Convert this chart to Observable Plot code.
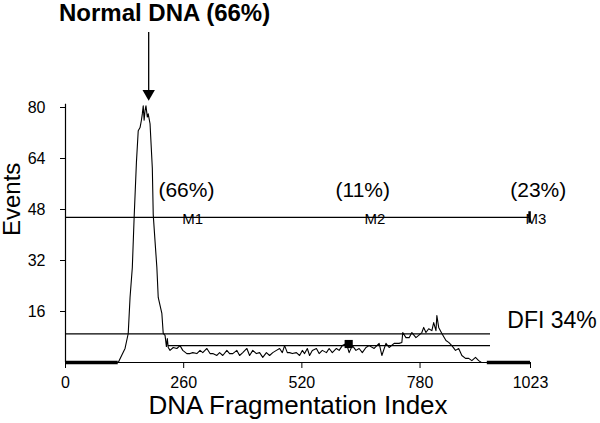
<!DOCTYPE html>
<html><head><meta charset="utf-8">
<script src="https://cdn.jsdelivr.net/npm/d3@7"></script>
<script src="https://cdn.jsdelivr.net/npm/@observablehq/plot@0.6"></script>
<style>body{margin:0;background:#fff;} svg{display:block;}</style>
</head><body><div id="chart"></div>
<script>
// Histogram: DNA fragmentation index channel vs events
const channel = [0,116,131,138,142,147,151,156,160,164,167,169,171,173,175,177,180,182,186,191,193,197,201,204,212,215,219,222,224,226,230,237,245,252,258,267,274,280,289,296,302,311,318,324,333,339,346,355,361,368,377,383,390,399,405,412,420,427,434,442,449,456,464,471,477,482,488,493,499,508,515,521,526,532,537,543,552,558,565,574,580,587,596,602,609,618,624,631,639,646,653,661,668,679,690,696,705,712,723,734,740,742,749,756,762,771,777,784,788,793,799,806,810,815,817,821,828,837,843,850,858,865,872,880,887,894,902,909,915,1023];
const events = [0,0,4.4,9.1,20.4,29.8,45.5,62.7,72.7,73.7,76,78,80.5,76,79,80.5,77,78,74.9,61,46.4,38,29.8,20.4,15.4,9.1,8.5,5,7.5,4.7,3.8,4.7,4.4,5.3,3.8,2.8,2.8,3.1,2.8,3.8,3.1,4.4,2.8,2.8,2.2,3.1,2.2,3.8,2.8,2.8,3.8,2.2,3.1,4.4,2.2,3.8,2.8,3.1,1.6,3.1,2.2,3.1,3.8,4.4,3.1,5.3,3.1,3.1,2.8,3.1,2.2,3.8,2.8,4.4,2.2,3.8,4.4,2.8,3.8,3.1,4.4,3.1,4.4,3.8,5.3,6.0,3.1,5.3,3.8,4.4,3.1,4.7,5.3,4.4,6.0,2.2,6.0,4.7,6.0,6.0,6.3,9.4,7.8,7.8,9.4,7.8,8.5,9.4,11,9.4,10.6,10,12.5,10,14.7,11,9.1,6.9,6.3,5.3,3.8,4.4,2.2,1.3,1.3,0.6,1.6,0.6,0,0];

const xTicks = [0, 260, 520, 780, 1023];
const yTicks = [16, 32, 48, 64, 80];

// Marker gates
const mLineLevel = 45.5;
const mLineRange = [0, 1021];
const mLabels = ["M1", "M2", "M3"];
const mLabelX = [280, 681, 1035];
const mLabelY = [45.1, 45.1, 45.1];
const pctLabels = ["(66%)", "(11%)", "(23%)"];
const pctX = [266, 654, 1040];
const pctY = [53.9, 53.9, 53.9];

// DFI gate lines
const dfiUpper = {level: 9.0, from: 0, to: 935};
const dfiLower = {level: 5.3, from: 226, to: 935};
const dfiLabel = "DFI 34%";
const dfiLabelPos = [972, 13.0];

// Thick zero segments
const zeroSegments = [[0, 116], [928, 1023]];

// Square marker
const squareMarker = [623, 5.8];

// Title and arrow
const titleText = "Normal DNA (66%)";
const titlePos = [218, 109.7];
const arrowX = 183;
const arrowY = [103.5, 84.4];

const hist = channel.map((c, i) => ({x: c, y: events[i]}));
const font = "'Liberation Sans', Arial, Helvetica, sans-serif";

const chart = Plot.plot({
  width: 600,
  height: 423,
  marginLeft: 65,
  marginRight: 70,
  marginTop: 107,
  marginBottom: 61,
  style: {fontFamily: font, background: "#fff", color: "#000", overflow: "visible"},
  x: {domain: [0, 1023]},
  y: {domain: [0, 80]},
  marks: [
    Plot.axisY({ticks: yTicks, tickSize: 5, tickPadding: 15, fontSize: 16, label: null, stroke: "#000", strokeOpacity: 1}),
    Plot.axisX({ticks: xTicks, tickFormat: d => String(d), tickSize: 6, tickPadding: 8, fontSize: 16, label: null, stroke: "#000", strokeOpacity: 1}),
    Plot.ruleX([0], {y1: 0, y2: 81, stroke: "#000", strokeWidth: 1.2}),
    Plot.ruleY([0], {x1: 0, x2: 1023, stroke: "#000", strokeWidth: 1.2}),
    Plot.ruleY(zeroSegments, {y: () => 0, x1: d => d[0], x2: d => d[1], stroke: "#000", strokeWidth: 3.5}),
    // M gate line
    Plot.ruleY([mLineLevel], {x1: mLineRange[0], x2: mLineRange[1], stroke: "#000", strokeWidth: 1.2}),
    Plot.ruleX([mLineRange[1]], {y1: mLineLevel - 1.8, y2: mLineLevel + 1.8, stroke: "#000", strokeWidth: 2.5}),
    // DFI gates
    Plot.ruleY([dfiUpper.level], {x1: dfiUpper.from, x2: dfiUpper.to, stroke: "#000", strokeWidth: 1.2}),
    Plot.ruleY([dfiLower.level], {x1: dfiLower.from, x2: dfiLower.to, stroke: "#000", strokeWidth: 1.2}),
    // histogram
    Plot.line(hist, {x: "x", y: "y", curve: "linear", stroke: "#000", strokeWidth: 1.1}),
    Plot.dot([squareMarker], {x: d => d[0], y: d => d[1], symbol: "square", r: 4.6, fill: "#000", stroke: "none"}),
    // labels
    Plot.text(mLabels, {x: (d, i) => mLabelX[i], y: (d, i) => mLabelY[i], text: d => d, textAnchor: (d, i) => i === 2 ? "start" : "middle", fontSize: 15, fill: "#000", lineAnchor: "middle"}),
    Plot.text(pctLabels, {x: (d, i) => pctX[i], y: (d, i) => pctY[i], text: d => d, fontSize: 21, fill: "#000", lineAnchor: "middle"}),
    Plot.text([dfiLabel], {x: dfiLabelPos[0], y: dfiLabelPos[1], text: d => d, textAnchor: "start", fontSize: 23, fill: "#000", lineAnchor: "middle"}),
    Plot.text([titleText], {x: titlePos[0], y: titlePos[1], text: d => d, fontSize: 24, fontWeight: "bold", fill: "#000", lineAnchor: "middle"}),
    Plot.ruleX([arrowX], {y1: arrowY[0], y2: arrowY[1], stroke: "#000", strokeWidth: 1.3}),
    Plot.dot([arrowX], {x: d => d, y: arrowY[1], symbol: "triangle", r: 4.6, rotate: 180, fill: "#000", stroke: "none"}),
    // axis titles
    Plot.text(["Events"], {frameAnchor: "left", dx: -52.7, dy: 1, rotate: -90, text: d => d, fontSize: 24, fill: "#000", lineAnchor: "middle"}),
    Plot.text(["DNA Fragmentation Index"], {frameAnchor: "bottom", dy: 43.5, text: d => d, fontSize: 26, fill: "#000", lineAnchor: "middle"})
  ]
});
document.getElementById("chart").appendChild(chart);
</script>
</body></html>
